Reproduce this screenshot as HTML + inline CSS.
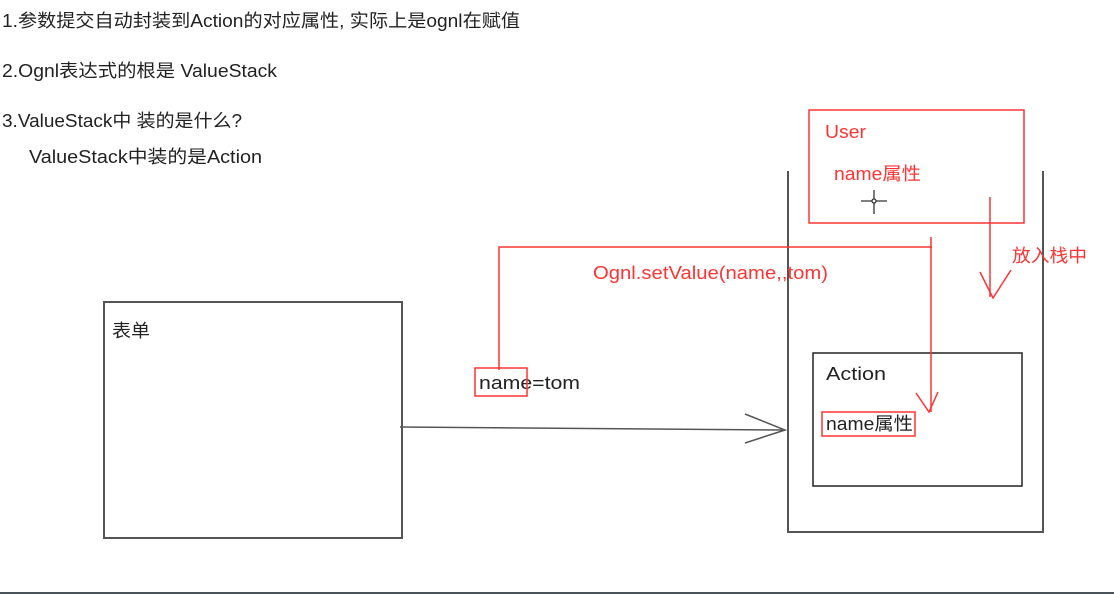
<!DOCTYPE html>
<html><head><meta charset="utf-8"><style>
html,body{margin:0;padding:0;background:#fff;width:1114px;height:594px;overflow:hidden}
text{font-family:"Liberation Sans","Noto Sans CJK SC",sans-serif;font-size:18px}
</style></head><body>
<svg width="1114" height="594" xmlns="http://www.w3.org/2000/svg">
<g fill="#222">
<text x="2" y="27" textLength="518" lengthAdjust="spacingAndGlyphs">1.参数提交自动封装到Action的对应属性, 实际上是ognl在赋值</text>
<text x="2" y="77" textLength="275" lengthAdjust="spacingAndGlyphs">2.Ognl表达式的根是 ValueStack</text>
<text x="2" y="127" textLength="240" lengthAdjust="spacingAndGlyphs">3.ValueStack中 装的是什么?</text>
<text x="29" y="163" textLength="233" lengthAdjust="spacingAndGlyphs">ValueStack中装的是Action</text>
<text x="112" y="337" textLength="38" lengthAdjust="spacingAndGlyphs">表单</text>
<text x="479" y="389" textLength="101" lengthAdjust="spacingAndGlyphs">name=tom</text>
<text x="826" y="380" textLength="60" lengthAdjust="spacingAndGlyphs">Action</text>
<text x="826" y="430" textLength="87" lengthAdjust="spacingAndGlyphs">name属性</text>
</g>
<g fill="none" stroke="#555" stroke-width="2">
<rect x="104" y="302" width="298" height="236"/>
<polyline points="788,171 788,532 1043,532 1043,171"/>
</g>
<rect x="813" y="353" width="209" height="133" fill="none" stroke="#222" stroke-width="1.5"/>
<g fill="none" stroke="#555" stroke-width="1.5">
<line x1="400" y1="427" x2="785" y2="430"/>
<polyline points="745,414 785,430 745,443"/>
</g>
<g fill="none" stroke="#f33" stroke-width="1.5">
<rect x="809" y="110" width="215" height="113"/>
<polyline points="499,370 499,247 932,247"/>
<line x1="931" y1="237" x2="931" y2="412"/>
<polyline points="916,393 929,412 938,392"/>
<line x1="990" y1="197" x2="990" y2="297"/>
<polyline points="980,272 993,298 1011,270"/>
<rect x="475" y="368" width="52" height="28"/>
<rect x="822" y="412" width="93" height="24"/>
</g>
<g fill="#f33">
<text x="825" y="138" textLength="41" lengthAdjust="spacingAndGlyphs">User</text>
<text x="834" y="180" textLength="87" lengthAdjust="spacingAndGlyphs">name属性</text>
<text x="593" y="279" textLength="235" lengthAdjust="spacingAndGlyphs">Ognl.setValue(name,,tom)</text>
<text x="1012" y="262" textLength="75" lengthAdjust="spacingAndGlyphs">放入栈中</text>
</g>
<g stroke="#333" stroke-width="1.3" fill="none">
<line x1="874" y1="190" x2="874" y2="214"/>
<line x1="861" y1="201" x2="887" y2="201"/>
<circle cx="874" cy="201" r="2" fill="#fff"/>
</g>
<line x1="0" y1="593" x2="1114" y2="593" stroke="#4a525a" stroke-width="2"/>
</svg>
</body></html>
